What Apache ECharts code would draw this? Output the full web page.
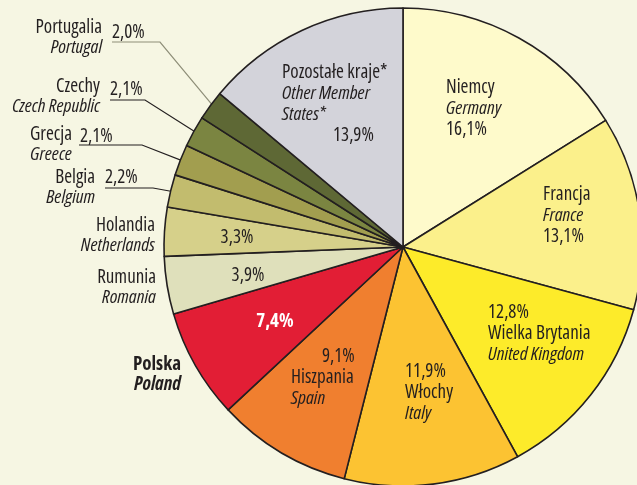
<!DOCTYPE html>
<html>
<head>
<meta charset="utf-8">
<script src="https://cdn.jsdelivr.net/npm/echarts@6/dist/echarts.min.js"></script>
<style>
html,body{margin:0;padding:0;background:#F6F6E3;}
#c{width:637px;height:485px;}
</style>
</head>
<body>
<div id="c"></div>
<script>
// ---- data ----
const namesPl = ['Niemcy','Francja','Wielka Brytania','Włochy','Hiszpania','Polska','Rumunia','Holandia','Belgia','Grecja','Czechy','Portugalia','Pozostałe kraje*'];
const namesEn = ['Germany','France','United Kingdom','Italy','Spain','Poland','Romania','Netherlands','Belgium','Greece','Czech Republic','Portugal','Other Member\nStates*'];
const shares = [16.1,13.1,12.8,11.9,9.1,7.4,3.9,3.3,2.2,2.1,2.1,2.0,13.9];

// ---- styles ----
const colors = ['#FEFACB','#FBF08B','#FDEB2A','#FCC332','#F07F2F','#E21E35','#DFE0BB','#D6D08A','#C2BC6E','#A29E4F','#7B8541','#5E6835','#D3D3DA'];
const FONT = "'Open Sans','DejaVu Sans Condensed',sans-serif";
const TXT = '#231F20';
const CX = 403, CY = 247, R = 239;
const FS = 19;
const ST = 'condensed', STI = 'italic condensed';

const fmt = v => v.toFixed(1).replace('.', ',') + '%';
const enLines = s => s.split('\n').map(l => '{e|' + l + '}').join('\n');

function rs(extra) {
  return Object.assign({fontFamily: FONT, fontSize: FS, color: TXT, fontStyle: ST, lineHeight: 21}, extra || {});
}
const rich = {
  n: rs(),
  e: rs({fontStyle: STI}),
  p: rs(),
  pSpain: rs({padding: [0,0,0,31]}),
  pOther: rs({padding: [0,0,0,51]}),
  pw: rs({color: '#FFFFFF', fontWeight: 'bold'}),
  nb: rs({fontWeight: 'bold', lineHeight: 20}),
  eb: rs({fontWeight: 'bold', fontStyle: STI, lineHeight: 20}),
  n2: rs({lineHeight: 20}),
  e2: rs({fontStyle: STI, lineHeight: 20})
};

function mainLabel(i) {
  const p = fmt(shares[i]);
  if (i <= 1) return '{n|' + namesPl[i] + '}\n' + enLines(namesEn[i]) + '\n{p|' + p + '}';
  if (i <= 3) return '{p|' + p + '}\n{n|' + namesPl[i] + '}\n' + enLines(namesEn[i]);
  if (i === 4) return '{pSpain|' + p + '}\n{n|' + namesPl[i] + '}\n' + enLines(namesEn[i]);
  if (i === 5) return '{pw|' + p + '}';
  if (i === 12) return '{n|' + namesPl[i] + '}\n' + enLines(namesEn[i]) + '\n{pOther|' + p + '}';
  return '{p|' + p + '}';
}
function nameLabel(i) {
  if (i === 5) return '{nb|' + namesPl[i] + '}\n{eb|' + namesEn[i] + '}';
  return '{n2|' + namesPl[i] + '}\n{e2|' + namesEn[i] + '}';
}

// label placements (style)
const mainPos = {
  0: [446, 77, 'left', 'top'],
  1: [543, 184, 'left', 'top'],
  2: [488, 302, 'left', 'top'],
  3: [405, 361, 'left', 'top'],
  4: [291, 346, 'left', 'top'],
  5: [275, 322, 'center', 'middle'],
  6: [248, 276, 'center', 'middle'],
  7: [237, 238, 'center', 'middle'],
  8: [105, 178, 'left', 'middle'],
  9: [80, 137, 'left', 'middle'],
  10: [110, 90, 'left', 'middle'],
  11: [112, 33, 'left', 'middle'],
  12: [282, 62, 'left', 'top']
};
// underline [y, x-start, x-end] for outside pct labels
const underline = {8: [188, 105, 153], 9: [145, 79, 142], 10: [100, 110, 145], 11: [42, 112, 160]};
const namePos = {
  5: [181, 355], 6: [156, 268], 7: [155, 216], 8: [95, 168], 9: [72, 125], 10: [100, 77], 11: [102, 18]
};

const total = shares.reduce((a, b) => a + b, 0);
function midPoint(i, rr) {
  let cum = 0;
  for (let k = 0; k < i; k++) cum += shares[k];
  const frac = (cum + shares[i] / 2) / total;
  const ang = frac * 2 * Math.PI; // clockwise from top
  return [CX + rr * Math.sin(ang), CY - rr * Math.cos(ang)];
}

const smallSet = new Set([8, 9, 10, 11]);

const mainData = shares.map((v, i) => ({
  value: v,
  name: namesPl[i],
  itemStyle: {color: colors[i]},
  label: {
    show: true,
    position: smallSet.has(i) ? 'outside' : 'inside',
    formatter: mainLabel(i),
    rich: rich
  },
  labelLine: {
    show: smallSet.has(i),
    lineStyle: {color: i === 11 ? '#8E8E78' : '#231F20', width: 1.2}
  }
}));

const nameData = shares.map((v, i) => ({
  value: v,
  name: namesPl[i],
  label: {show: namePos[i] !== undefined, position: 'inside', formatter: nameLabel(i), rich: rich},
  labelLine: {show: false}
}));

const chart = echarts.init(document.getElementById('c'), null, {renderer: 'canvas'});
chart.setOption({
  backgroundColor: '#F6F6E3',
  animation: false,
  series: [
    {
      type: 'pie',
      center: [CX, CY],
      radius: R,
      startAngle: 90,
      clockwise: true,
      avoidLabelOverlap: false,
      silent: true,
      itemStyle: {borderColor: '#231F20', borderWidth: 1.6},
      label: {fontFamily: FONT, fontSize: FS, color: TXT},
      labelLine: {show: false},
      data: mainData,
      labelLayout: function (params) {
        const i = params.dataIndex;
        const p = mainPos[i];
        const out = {x: p[0], y: p[1], align: p[2], verticalAlign: p[3], hideOverlap: false};
        if (underline[i]) {
          const u = underline[i];
          out.labelLinePoints = [midPoint(i, R * 0.97), [u[2], u[0]], [u[1], u[0]]];
        }
        return out;
      }
    },
    {
      type: 'pie',
      center: [CX, CY],
      radius: R,
      startAngle: 90,
      clockwise: true,
      avoidLabelOverlap: false,
      silent: true,
      itemStyle: {color: 'rgba(0,0,0,0)', borderWidth: 0},
      labelLine: {show: false},
      data: nameData,
      labelLayout: function (params) {
        const i = params.dataIndex;
        const p = namePos[i];
        if (!p) return {};
        return {x: p[0], y: p[1], align: 'right', verticalAlign: 'top', hideOverlap: false};
      }
    }
  ]
});
</script>
</body>
</html>
